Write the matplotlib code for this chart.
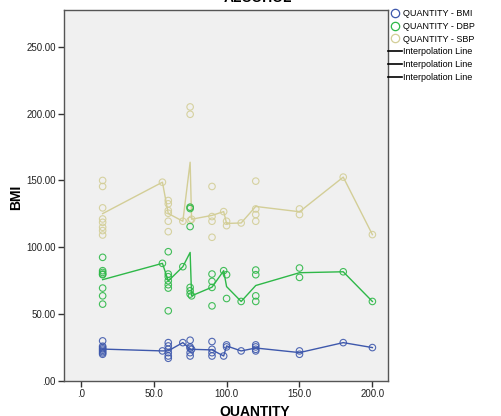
import numpy as np
import matplotlib
matplotlib.use('Agg')
import matplotlib.pyplot as plt
from matplotlib.lines import Line2D
from matplotlib.ticker import FuncFormatter

plt.rcParams['font.family'] = ['Liberation Sans', 'DejaVu Sans']

# QUANTITY value for each reading, and the reading itself
bmi_x = [15]*8 + [56] + [60]*6 + [70] + [75]*5 + [76] + [90]*4 + [98] + [100]*2 + [110] + [120]*4 + [150]*2 + [180] + [200]
bmi_y = [30, 26, 25, 24, 23, 22, 21, 20,
         22.5,
         28.7, 26.2, 23.7, 21.2, 18.7, 17,
         28.7,
         30.5, 25.5, 24.5, 21.2, 18.7,
         23.7,
         29.5, 23.7, 21.2, 18.7,
         18.7,
         27, 25.5,
         22.5,
         27, 25.5, 23.7, 22.5,
         22.5, 20,
         28.7,
         25]

dbp_x = [15]*8 + [56] + [60]*7 + [70] + [75]*6 + [76] + [90]*4 + [98] + [100]*2 + [110] + [120]*4 + [150]*2 + [180] + [200]
dbp_y = [92.5, 82.5, 81.2, 80, 79.5, 69.5, 63.7, 57.5,
         88,
         96.7, 80, 78, 75, 72, 69.5, 52.5,
         85.5,
         130, 129, 115.5, 70, 67.5, 65,
         63.7,
         80, 74.5, 70, 56.2,
         82.5,
         79.5, 61.7,
         59.5,
         83, 79.5, 63.7, 59.5,
         84.5, 77.5,
         81.7,
         59.5]

sbp_x = [15]*8 + [56] + [60]*6 + [70] + [75]*4 + [76] + [90]*4 + [98] + [100]*2 + [110] + [120]*4 + [150]*2 + [180] + [200]
sbp_y = [150, 145.5, 129.5, 121.2, 118.7, 115, 112.5, 109.2,
         148.7,
         135, 132.5, 127.5, 125.5, 119.5, 111.7,
         119.5,
         205, 199.5, 130, 120,
         121,
         145.5, 123, 119.5, 107.5,
         126.7,
         119.5, 116.2,
         118.2,
         149.5, 128.7, 124.5, 119.5,
         128.7, 124.5,
         152.5,
         109.5]

series = [
    ('QUANTITY - BMI', bmi_x, bmi_y, '#3e58ac', 4),
    ('QUANTITY - DBP', dbp_x, dbp_y, '#2eb848', 3),
    ('QUANTITY - SBP', sbp_x, sbp_y, '#d3ce97', 2),
]


def interp_line(xs, ys):
    xs = np.asarray(xs, dtype=float)
    ys = np.asarray(ys, dtype=float)
    ux = np.unique(xs)
    return ux, np.array([ys[xs == u].mean() for u in ux])


fig = plt.figure(figsize=(5.01, 4.16), dpi=100)
ax = fig.add_axes([64/501, 1 - 381/416, 324/501, 371/416])
ax.set_facecolor('#f0f0f0')

for name, xs, ys, col, z in series:
    ax.scatter(xs, ys, s=22, facecolors='none', edgecolors=col, linewidths=0.8, alpha=0.9, zorder=z)
    lx, ly = interp_line(xs, ys)
    ax.plot(lx, ly, color=col, lw=1.0, zorder=z)

ax.set_xlim(-11.5, 210.7)
ax.set_ylim(0, 277.5)
ax.set_xticks([0, 50, 100, 150, 200])
ax.set_yticks([0, 50, 100, 150, 200, 250])
ax.xaxis.set_major_formatter(FuncFormatter(lambda v, p: '.0' if v == 0 else '%.1f' % v))
ax.yaxis.set_major_formatter(FuncFormatter(lambda v, p: '.00' if v == 0 else '%.2f' % v))
ax.tick_params(labelsize=7, labelcolor='#222222', length=4, width=1, color='#333333', pad=2)
for s in ax.spines.values():
    s.set_color('#555555')
    s.set_linewidth(1)

fig.text(258/501, 1 - 5/416, 'ALCOHOL', ha='center', va='bottom', fontsize=10, fontweight='bold')
fig.text(255/501, 1 - 405/416, 'QUANTITY', ha='center', va='top', fontsize=10, fontweight='bold')
fig.text(16/501, 1 - 197/416, 'BMI', ha='center', va='center', rotation=90, fontsize=10, fontweight='bold')

handles = [Line2D([], [], ls='none', marker='o', mfc='none', mec=c, ms=6, mew=0.9) for _, _, _, c, _ in series]
handles += [Line2D([], [], color='black', lw=1.2) for _ in range(3)]
labels = [n for n, _, _, _, _ in series] + ['Interpolation Line'] * 3
fig.legend(handles, labels, loc='upper left', bbox_to_anchor=(388/501, 1 - 9/416),
           frameon=False, fontsize=6.5, handlelength=1.5, handletextpad=0.2,
           labelspacing=0.42, borderaxespad=0, borderpad=0)

fig.savefig('out.png', dpi=100)
